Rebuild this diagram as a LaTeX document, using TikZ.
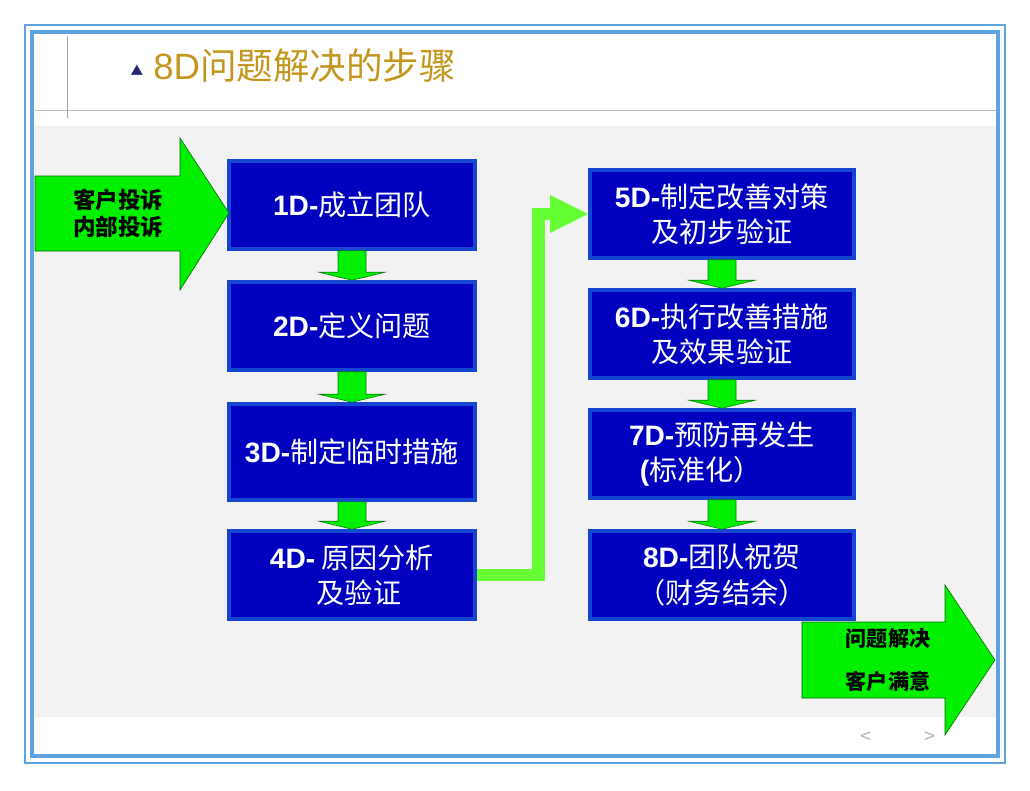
\documentclass[tikz,border=0pt]{standalone}
\usepackage{fontspec}
\setmainfont{Noto Sans CJK SC}
\newfontfamily\latinsans{Liberation Sans}
\usetikzlibrary{calc}
\definecolor{frameblue}{HTML}{5FA3E0}
\definecolor{boxblue}{HTML}{0000BE}
\definecolor{boxedge}{HTML}{1446D2}
\definecolor{arrowgreen}{HTML}{00F000}
\definecolor{lightgreen}{HTML}{66FF33}
\definecolor{titlegold}{HTML}{C3961E}
\definecolor{panelgray}{HTML}{F2F2F2}
\newcommand{\stepdown}[2]{% small down arrow between two steps
  \fill[arrowgreen, draw=green!50!black, thin]
    ($(#1.south)+(-14,0)$) -- ($(#1.south)+(14,0)$) -- ($(#2.north)+(14,-8)$)
    -- ($(#2.north)+(33,-8)$) -- (#2.north) -- ($(#2.north)+(-33,-8)$)
    -- ($(#2.north)+(-14,-8)$) -- cycle;}
\begin{document}
\begin{tikzpicture}[x=0.025cm, y=-0.025cm,
  stepbox/.style={draw=boxedge, line width=2.5pt, fill=boxblue, text=white,
    minimum height=2.2cm, font=\fontsize{20pt}{25pt}\selectfont, align=center,
    inner sep=0pt},
  lstep/.style={stepbox, minimum width=6.15cm},
  rstep/.style={stepbox, minimum width=6.6cm},
  tag/.style={font=\fontsize{16pt}{22pt}\selectfont\bfseries, align=center}]
	% The frame:
	\useasboundingbox (0,0) rectangle (1030,790);
	\draw[frameblue, line width=1.2pt] (25,25) rectangle (1005,763);
	\draw[frameblue, line width=2.8pt] (32,32) rectangle (998,756);
	\fill[panelgray] (35,126) rectangle (996,717);
	\draw[gray!50, thin] (35,110) -- (996,110);
	\draw[gray!70, thin] (67,36) -- (67,118);
	% Title:
	\node[font=\fontsize{9pt}{9pt}\selectfont, text=gray!50!blue!60!black, inner sep=0pt]
		(mark) at (137,70) {▲};
	\node[anchor=west, text=titlegold, font=\fontsize{26pt}{30pt}\selectfont, inner sep=0pt]
		(title) at (153,66) {{\latinsans 8D}问题解决的步骤};
	% Steps:
	\node[lstep] (d1) at (352,205) {{\latinsans\bfseries 1D-}成立团队};
	\node[lstep] (d2) at (352,326) {{\latinsans\bfseries 2D-}定义问题};
	\node[lstep, minimum height=2.4cm] (d3) at (352,452) {{\latinsans\bfseries 3D-}制定临时措施};
	\node[lstep] (d4) at (352,575) {{\latinsans\bfseries 4D-} 原因分析\\\hspace*{0.5em}及验证};
	\node[rstep] (d5) at (722,214) {{\latinsans\bfseries 5D-}制定改善对策\\及初步验证};
	\node[rstep] (d6) at (722,334) {{\latinsans\bfseries 6D-}执行改善措施\\及效果验证};
	\node[rstep] (d7) at (722,454) {{\latinsans\bfseries 7D-}预防再发生\\\hspace*{-1.5em}{\latinsans\bfseries(}标准化）};
	\node[rstep] (d8) at (722,575) {{\latinsans\bfseries 8D-}团队祝贺\\（财务结余）};
	\stepdown{d1}{d2}
	\stepdown{d2}{d3}
	\stepdown{d3}{d4}
	\stepdown{d5}{d6}
	\stepdown{d6}{d7}
	\stepdown{d7}{d8}
	% Input and output:
	\fill[arrowgreen, draw=green!40!black, thin]
		(35,176) -- (180,176) -- (180,138) -- (229,213) -- (180,290) -- (180,251) -- (35,251) -- cycle;
	\node[tag] (inp) at (118,213) {客户投诉\\[-3pt]内部投诉};
	\fill[arrowgreen, draw=green!40!black, thin]
		(802,622) -- (945,622) -- (945,585) -- (995,660) -- (945,735) -- (945,698) -- (802,698) -- cycle;
	\node[tag, font=\fontsize{15pt}{30pt}\selectfont\bfseries] (outp) at (888,660) {问题解决\\客户满意};
	% Link 4D to 5D:
	\coordinate (bend1) at ($(d4.east)+(62,0)$);
	\coordinate (bend2) at ($(d5.west)+(-48,0)$);
	\draw[lightgreen, line width=9pt] (d4.east) -- (bend1) |- ($(bend2)+(10,0)$);
	\fill[lightgreen] ($(bend2)+(10,-19)$) -- (d5.west) -- ($(bend2)+(10,19)$) -- cycle;
	% Navigation:
	\node[text=gray!60, font=\fontsize{14pt}{14pt}\selectfont] (prev) at (866,738) {<};
	\node[text=gray!60, font=\fontsize{14pt}{14pt}\selectfont] (next) at (930,738) {>};
\end{tikzpicture}
\end{document}
